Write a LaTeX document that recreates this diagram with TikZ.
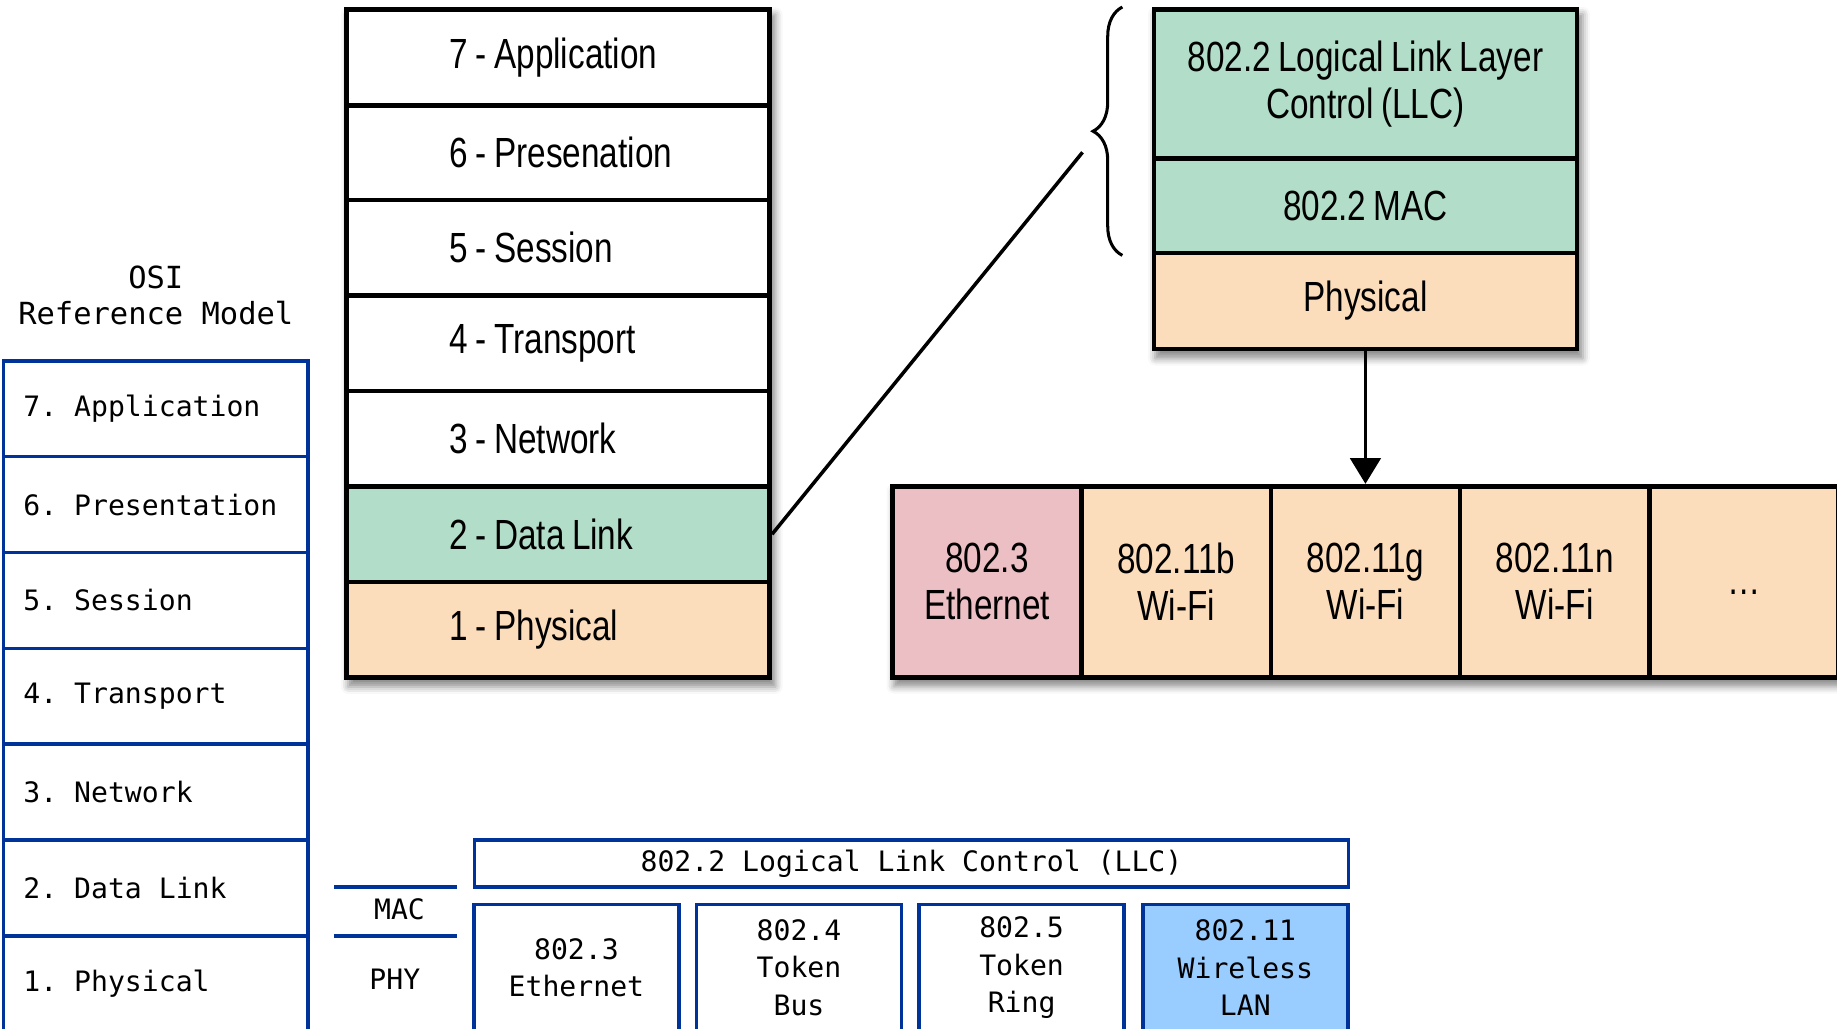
\documentclass[tikz,border=0pt]{standalone}
\usepackage{fontspec}
\usepackage{xcolor}
\usepackage{tikz}
\usetikzlibrary{arrows.meta, positioning, calc, decorations.pathreplacing, backgrounds, fit, shadows.blur}
\newfontfamily\condfont[FakeStretch=0.79, WordSpace=0.8]{Liberation Sans}
\newfontfamily\pixfont{DejaVu Sans Mono}
\definecolor{linkgreen}{HTML}{B2DDC8}
\definecolor{physpeach}{HTML}{FCDDBB}
\definecolor{etherpink}{HTML}{EBBFC3}
\definecolor{osiblue}{HTML}{003399}
\definecolor{wlanblue}{HTML}{99CCFF}

\begin{document}
\begin{tikzpicture}[x=0.5pt, y=-0.5pt,
  layer/.style={rectangle, draw=black, line width=2pt, fill=white, minimum width=180.5pt,
    minimum height=40.7pt, inner sep=0pt, text width=180.5pt, align=flush left,
    execute at begin node={\noindent\hspace*{44pt}},
    font=\condfont\fontsize{18}{20}\selectfont},
  sublayer/.style={rectangle, draw=black, line width=2pt, minimum width=180.5pt, inner sep=0pt,
    align=center, font=\condfont\fontsize{18}{20}\selectfont},
  cell/.style={rectangle, draw=black, line width=2pt, fill=physpeach, minimum width=80.75pt,
    minimum height=81.5pt, inner sep=0pt, align=center, font=\condfont\fontsize{18}{20}\selectfont},
  osirow/.style={rectangle, draw=osiblue, line width=1.5pt, fill=white, minimum height=40.9pt,
    inner xsep=8.5pt, inner ysep=0pt, text width=113pt, align=flush left,
    font=\pixfont\fontsize{12}{16}\selectfont\frenchspacing},
  ieeebox/.style={rectangle, draw=osiblue, line width=1.5pt, fill=white, inner sep=0pt,
    align=center, font=\pixfont\fontsize{12}{16}\selectfont},
  shadowbox/.style={inner sep=0pt, fill=white,
    blur shadow={shadow xshift=1.5pt, shadow yshift=-3pt, shadow blur radius=3pt, shadow opacity=45}},
  link/.style={line width=1.5pt},
  arrow/.style={-{Triangle[width=13pt,length=11pt]}, line width=1.5pt}
]
  \useasboundingbox (0,0) rectangle (1568,878);
  \clip (0,0) rectangle (1568,878);

  % OSI reference model (left)
  \node[font=\pixfont\fontsize{13}{15.5}\selectfont, align=center] (title) at (133,252) {OSI\\Reference Model};
  \node[osirow] (osi7) at (133,348.9) {7. Application};
  \node[osirow] (osi6) at (133,430.7) {6. Presentation};
  \node[osirow] (osi5) at (133,512.5) {5. Session};
  \node[osirow] (osi4) at (133,594.3) {4. Transport};
  \node[osirow] (osi3) at (133,676.1) {3. Network};
  \node[osirow] (osi2) at (133,757.9) {2. Data Link};
  \node[osirow] (osi1) at (133,839.7) {1. Physical};

  % IEEE 802 sublayers
  \draw[osiblue, line width=1.5pt] (285,757) -- (390,757);
  \draw[osiblue, line width=1.5pt] (285,799) -- (390,799);
  \node[font=\pixfont\fontsize{12}{16}\selectfont] (maclbl) at (341,776) {MAC};
  \node[font=\pixfont\fontsize{12}{16}\selectfont] (phylbl) at (337,836) {PHY};
  \node[ieeebox, minimum width=373pt, minimum height=20pt] (llcbar) at (778,737) {802.2 Logical Link Control (LLC)};
  \node[ieeebox, minimum width=87.5pt, minimum height=54pt] (e3) at (492,826) {802.3\\Ethernet};
  \node[ieeebox, minimum width=87.5pt, minimum height=54pt] (e4) at (682,826) {802.4\\Token\\Bus};
  \node[ieeebox, minimum width=87.5pt, minimum height=54pt] (e5) at (872,826) {802.5\\Token\\Ring};
  \node[ieeebox, fill=wlanblue, minimum width=87.5pt, minimum height=54pt] (e11) at (1063,826) {802.11\\Wireless\\LAN};

  % seven layer stack
  \node[layer] (l7) at (476.5,49) {7 - Application};
  \node[layer] (l6) at (476.5,130.5) {6 - Presenation};
  \node[layer] (l5) at (476.5,211.5) {5 - Session};
  \node[layer] (l4) at (476.5,293) {4 - Transport};
  \node[layer] (l3) at (476.5,374.5) {3 - Network};
  \node[layer, fill=linkgreen] (l2) at (476.5,456) {2 - Data Link};
  \node[layer, fill=physpeach] (l1) at (476.5,537.5) {1 - Physical};

  % data link detail
  \node[sublayer, fill=linkgreen, minimum height=63.5pt] (llc) at (1165.5,71.5) {802.2 Logical Link Layer\\Control (LLC)};
  \node[sublayer, fill=linkgreen, minimum height=40.5pt] (mac) at (1165.5,175.5) {802.2 MAC};
  \node[sublayer, fill=physpeach, minimum height=41pt] (phys) at (1165.5,257) {Physical};

  % physical variants
  \node[cell, fill=etherpink] (c1) at (842.5,496.5) {802.3\\Ethernet};
  \node[cell] (c2) at (1004,496.5) {802.11b\\Wi-Fi};
  \node[cell] (c3) at (1165.5,496.5) {802.11g\\Wi-Fi};
  \node[cell] (c4) at (1327,496.5) {802.11n\\Wi-Fi};
  \node[cell, text height=11pt, text depth=0pt] (c5) at (1488.5,496.5) {\dots};

  \begin{scope}[on background layer]
    \node[shadowbox, fit=(l7)(l1)] (stackshadow) {};
    \node[shadowbox, fit=(llc)(phys)] (detailshadow) {};
    \node[shadowbox, fit=(c1)(c5)] (rowshadow) {};
  \end{scope}

  \coordinate (tip) at (924,130);
  \draw[link] (l2.east) -- (tip);
  \draw[line width=1.3pt, decorate, decoration={brace, amplitude=12.5pt}]
    ([xshift=-12.5pt]mac.south west) -- ([xshift=-12.5pt]llc.north west);
  \draw[arrow] (phys.south) -- (c3.north);
\end{tikzpicture}
\end{document}
